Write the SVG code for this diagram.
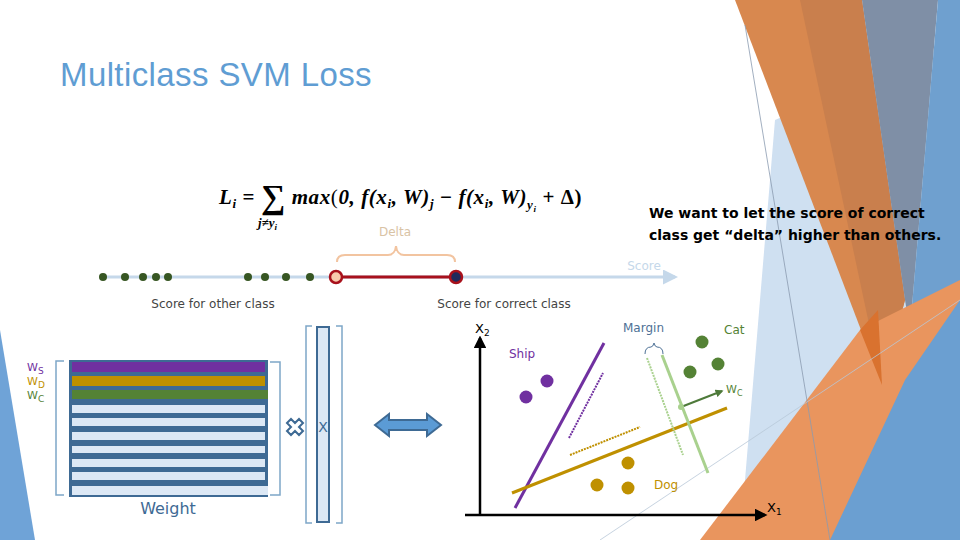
<svg xmlns="http://www.w3.org/2000/svg" width="960" height="540" viewBox="0 0 960 540">
<defs>
<style>
.t{font-family:"DejaVu Sans","Noto Sans",sans-serif}
.s{font-family:"Liberation Sans",sans-serif}
.f{font-family:"Liberation Serif",serif;font-style:italic;font-weight:bold}
</style>
<marker id="ab" viewBox="0 0 10 10" refX="8" refY="5" markerWidth="5" markerHeight="5" orient="auto"><path d="M0,0L10,5L0,10z" fill="#c5d8ea"/></marker>
<marker id="ak" viewBox="0 0 10 10" refX="8" refY="5" markerWidth="5" markerHeight="5" orient="auto"><path d="M0,0L10,5L0,10z" fill="#000"/></marker>
<marker id="ag" viewBox="0 0 10 10" refX="8" refY="5" markerWidth="4" markerHeight="4" orient="auto"><path d="M0,0L10,5L0,10z" fill="#4e7a3a"/></marker>
<marker id="an" viewBox="0 0 10 10" refX="8" refY="5" markerWidth="3" markerHeight="3" orient="auto"><path d="M0,0L10,5L0,10z" fill="#2f5597"/></marker>
</defs>
<rect width="960" height="540" fill="#fff"/>
<g id="background">
<polygon points="0,330 35,540 0,540" fill="#6fa3d7"/>
<polygon points="775,120 960,40 960,540 740,540" fill="#cfe0f1"/>
<polygon points="735,0 862,0 905,300 882,385" fill="#d8884f"/>
<polygon points="800,0 862,0 905,300 882,385" fill="#c97f4d"/>
<polygon points="862,0 938,0 910,330 905,300" fill="#7f8fa6"/>
<polygon points="938,0 960,0 960,540 880,540 910,330" fill="#6fa0cf"/>
<polygon points="700,540 860,330 960,280 960,540" fill="#e9955e"/>
<polygon points="860,330 878,310 882,385" fill="#d9722f"/>
<polygon points="830,540 905,380 960,300 960,540" fill="#6b9fd1"/>
<line x1="745" y1="25" x2="830" y2="540" stroke="#8a9bb0" stroke-width="0.8"/>
<line x1="600" y1="540" x2="960" y2="300" stroke="#b8c8d8" stroke-width="0.8"/>
</g>
<g id="title"><text x="60" y="86" class="s" font-size="33" fill="#5f9dd3" letter-spacing="0.4">Multiclass SVM Loss</text></g>
<g id="formula">
<text x="219" y="204" class="f" font-size="21" fill="#000" letter-spacing="0.6">L<tspan font-size="13" dy="4">i</tspan><tspan dy="-4" font-style="normal"> = </tspan><tspan font-style="normal" font-size="34" dy="4">∑</tspan><tspan dy="-4"> max</tspan><tspan font-style="normal" font-weight="normal">(</tspan>0, f(x<tspan font-size="13" dy="4">i</tspan><tspan dy="-4">, W)</tspan><tspan font-size="13" dy="4">j</tspan><tspan dy="-4" font-style="normal"> − </tspan>f(x<tspan font-size="13" dy="4">i</tspan><tspan dy="-4">, W)</tspan><tspan font-size="13" dy="5">y</tspan><tspan font-size="9" dy="3">i</tspan><tspan dy="-8" font-style="normal"> + Δ)</tspan></text>
<text x="258" y="227" class="f" font-size="13">j≠y<tspan font-size="9" dy="3">i</tspan></text>
</g>
<g id="note"><text class="t" font-size="14" font-weight="bold" fill="#000"><tspan x="649" y="218">We want to let the score of correct</tspan><tspan x="649" y="240">class get “delta” higher than others.</tspan></text></g>
<g id="connectors">
<line x1="100" y1="277" x2="675" y2="277" stroke="#c5d8ea" stroke-width="3" marker-end="url(#ab)"/>
<line x1="336" y1="277" x2="456" y2="277" stroke="#a8111c" stroke-width="3"/>
<path d="M337,262 q0,-7 8,-7 h43 q7,0 8,-9 q1,9 8,9 h43 q8,0 8,7" fill="none" stroke="#f2c4a0" stroke-width="2"/>
<line x1="170" y1="450" x2="170" y2="493" stroke="#2f5597" stroke-width="3" marker-end="url(#an)"/>
<line x1="480" y1="516" x2="480" y2="338" stroke="#000" stroke-width="2.5" marker-end="url(#ak)"/>
<line x1="465" y1="515" x2="765" y2="515" stroke="#000" stroke-width="2.5" marker-end="url(#ak)"/>
<line x1="515" y1="508" x2="604" y2="343" stroke="#7030a0" stroke-width="3"/>
<line x1="569" y1="438" x2="603" y2="373" stroke="#7030a0" stroke-width="2" stroke-dasharray="2 1"/>
<line x1="512" y1="493" x2="727" y2="408" stroke="#bf9000" stroke-width="3"/>
<line x1="570" y1="455" x2="640" y2="427" stroke="#bf9000" stroke-width="2" stroke-dasharray="2 1"/>
<line x1="662" y1="355" x2="708" y2="473" stroke="#a9d18e" stroke-width="3"/>
<line x1="647" y1="358" x2="683" y2="455" stroke="#a9d18e" stroke-width="2" stroke-dasharray="2 1"/>
<line x1="681" y1="407" x2="722" y2="391" stroke="#4e7a3a" stroke-width="2" marker-end="url(#ag)"/>
<path d="M645,354 q0,-7 6,-7 q2,0 3,-4 q1,4 3,4 q6,0 6,7" fill="none" stroke="#4e7196" stroke-width="1"/>
</g>
<g id="scoreline">
<g fill="#375623">
<circle cx="103" cy="277" r="4"/><circle cx="125" cy="277" r="4"/><circle cx="143" cy="277" r="4"/><circle cx="156" cy="277" r="4"/><circle cx="168" cy="277" r="4"/>
<circle cx="248" cy="277" r="4"/><circle cx="265" cy="277" r="4"/><circle cx="286" cy="277" r="4"/><circle cx="310" cy="277" r="4"/>
</g>
<circle cx="336" cy="277" r="6" fill="#f8cbad" stroke="#a8111c" stroke-width="2.5"/>
<circle cx="456" cy="277" r="6" fill="#1f2a5c" stroke="#a8111c" stroke-width="2.5"/>
<text x="395" y="236" class="t" font-size="12" text-anchor="middle" fill="#d9c3a5">Delta</text>
<text x="644" y="270" class="t" font-size="12" text-anchor="middle" fill="#c5d8ea">Score</text>
<text x="213" y="308" class="t" font-size="12" text-anchor="middle" fill="#444">Score for other class</text>
<text x="504" y="308" class="t" font-size="12" text-anchor="middle" fill="#444">Score for correct class</text>
</g>
<g id="matrix">
<rect x="69" y="360" width="199" height="137" fill="#3e6a94"/>
<rect x="72" y="362" width="193" height="10" fill="#7030a0"/>
<rect x="72" y="376" width="193" height="10" fill="#bf9000"/>
<rect x="72" y="390" width="196" height="9" fill="#548235"/>
<g fill="#dce8f5">
<rect x="72" y="405" width="193" height="8"/><rect x="72" y="418" width="193" height="8"/><rect x="72" y="432" width="193" height="8"/><rect x="72" y="446" width="193" height="7"/><rect x="72" y="459" width="193" height="8"/><rect x="72" y="472" width="193" height="8"/><rect x="72" y="486" width="196" height="9"/>
</g>
<path d="M64,361 h-8 v134 h8 M270,362 h10 v133 h-10" fill="none" stroke="#7ea6c8" stroke-width="1.5"/>
<text x="27" y="371" class="t" font-size="11" fill="#7030a0">W<tspan font-size="9" dy="3">S</tspan></text>
<text x="27" y="385" class="t" font-size="11" fill="#bf9000">W<tspan font-size="9" dy="3">D</tspan></text>
<text x="27" y="399" class="t" font-size="11" fill="#548235">W<tspan font-size="9" dy="3">C</tspan></text>
<text x="168" y="514" class="t" font-size="16" text-anchor="middle" fill="#3e6a94">Weight</text>
</g>
<g id="times"><path d="M287,423 l4,-4 4,4 4,-4 4,4 -4,4 4,4 -4,4 -4,-4 -4,4 -4,-4 4,-4z" fill="#fff" stroke="#3e6a94" stroke-width="2"/></g>
<g id="vector">
<rect x="317" y="327" width="12" height="195" fill="#dce8f5" stroke="#3e6a94" stroke-width="2"/>
<path d="M312,326 h-6 v197 h6 M336,326 h6 v197 h-6" fill="none" stroke="#7ea6c8" stroke-width="1.5"/>
<text x="323" y="432" class="t" font-size="14" text-anchor="middle" fill="#3e6a94">X</text>
</g>
<g id="dblarrow"><path d="M375,425 l14,-11 v6 h38 v-6 l14,11 -14,11 v-6 h-38 v6z" fill="#5b9bd5" stroke="#3e6a94" stroke-width="2"/></g>
<g id="chart">
<g fill="#7030a0"><circle cx="547" cy="381" r="6.5"/><circle cx="526" cy="397" r="6.5"/></g>
<g fill="#548235"><circle cx="702" cy="342" r="6.5"/><circle cx="718" cy="364" r="6.5"/><circle cx="690" cy="372" r="6.5"/></g>
<g fill="#bf9000"><circle cx="628" cy="463" r="6.5"/><circle cx="597" cy="485" r="6.5"/><circle cx="628" cy="488" r="6.5"/></g>
<circle cx="681" cy="407" r="3" fill="#a9d18e"/>
<text x="475" y="333" class="t" font-size="13" fill="#000">X<tspan font-size="9" dy="3">2</tspan></text>
<text x="767" y="512" class="t" font-size="13" fill="#000">X<tspan font-size="9" dy="3">1</tspan></text>
<text x="509" y="358" class="t" font-size="12" fill="#7030a0">Ship</text>
<text x="623" y="332" class="t" font-size="12" fill="#4e7196">Margin</text>
<text x="724" y="334" class="t" font-size="12" fill="#548235">Cat</text>
<text x="654" y="489" class="t" font-size="12" fill="#bf9000">Dog</text>
<text x="726" y="393" class="t" font-size="11" fill="#548235">W<tspan font-size="8" dy="3">C</tspan></text>
</g>
</svg>
